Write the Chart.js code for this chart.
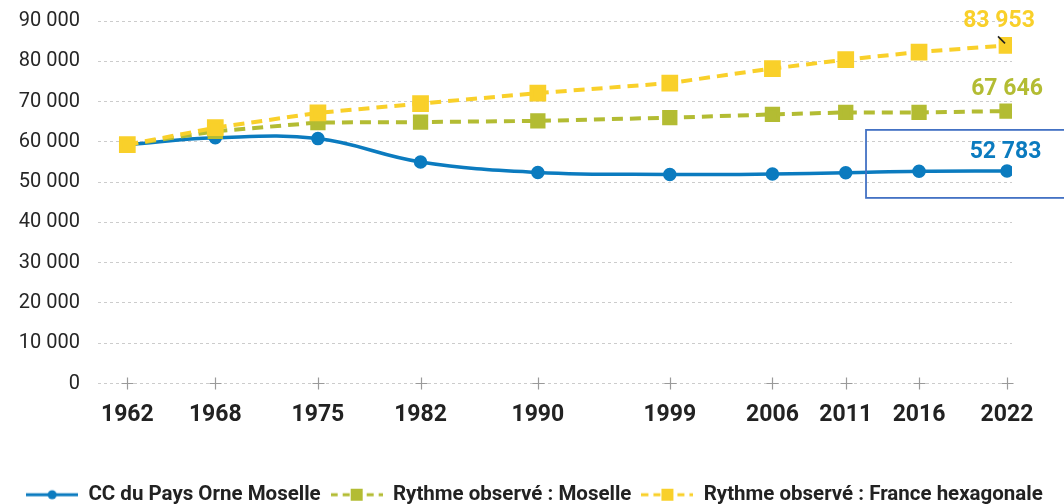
<!DOCTYPE html>
<html><head><meta charset="utf-8">
<script src="https://cdn.jsdelivr.net/npm/chart.js@4/dist/chart.umd.min.js"></script>
<style>html,body{margin:0;padding:0;background:#fff}#wrap{width:1064px;height:504px}</style>
</head><body><div id="wrap"><canvas id="c" width="1064" height="504"></canvas></div>
<script>
const years = [1962, 1968, 1975, 1982, 1990, 1999, 2006, 2011, 2016, 2022];
const ccPaysOrneMoselle = [59300, 61000, 60800, 55000, 52400, 51900, 52000, 52300, 52700, 52783];
const rythmeMoselle = [59300, 62600, 64800, 64900, 65200, 66000, 66800, 67300, 67300, 67646];
const rythmeFrance = [59300, 63500, 67200, 69500, 72100, 74600, 78200, 80400, 82300, 83953];
const seriesNames = ['CC du Pays Orne Moselle', 'Rythme observé : Moselle', 'Rythme observé : France hexagonale'];
const yTickValues = [0, 10000, 20000, 30000, 40000, 50000, 60000, 70000, 80000, 90000];

const BLUE = '#0b7bbf', GREEN = '#b3bc33', YELLOW = '#f9d02a';
const fmt = n => String(Math.round(n)).replace(/\B(?=(\d{3})+(?!\d))/g, ' ');

function legendIcon(color, dashed, shape) {
  const c = document.createElement('canvas');
  c.width = 52; c.height = 14;
  const g = c.getContext('2d');
  g.strokeStyle = color; g.fillStyle = color; g.lineWidth = 3;
  if (dashed) g.setLineDash([7, 5]);
  g.beginPath(); g.moveTo(0, 7); g.lineTo(52, 7); g.stroke();
  if (shape === 'circle') { g.beginPath(); g.arc(26, 7, 4.5, 0, Math.PI * 2); g.fill(); }
  else { g.fillRect(20, 1, 12, 12); }
  return c;
}
const icons = [legendIcon(BLUE, false, 'circle'), legendIcon(GREEN, true, 'rect'), legendIcon(YELLOW, true, 'rect')];

const toPts = arr => years.map((y, i) => ({ x: y, y: arr[i] }));

const labelOffsets = [[-1.5, -12.7], [0, -15.7], [-8, -18]];

const endLabels = {
  id: 'endLabels',
  afterDatasetsDraw(chart) {
    const ctx = chart.ctx;
    chart.data.datasets.forEach((ds, i) => {
      const meta = chart.getDatasetMeta(i);
      const pt = meta.data[meta.data.length - 1];
      const v = ds.data[ds.data.length - 1].y;
      ctx.save();
      ctx.font = 'bold 23px Roboto';
      ctx.fillStyle = ds.borderColor;
      ctx.textAlign = 'center';
      ctx.textBaseline = 'alphabetic';
      ctx.fillText(fmt(v), pt.x + labelOffsets[i][0], pt.y + labelOffsets[i][1]);
      ctx.restore();
      if (i === 2) {
        ctx.save();
        ctx.strokeStyle = '#222'; ctx.lineWidth = 1.6;
        ctx.beginPath(); ctx.moveTo(pt.x - 9, pt.y - 9); ctx.lineTo(pt.x - 2, pt.y - 2); ctx.stroke();
        ctx.restore();
      }
      if (i === 0) {
        ctx.save();
        ctx.strokeStyle = '#4472c4'; ctx.lineWidth = 1.8;
        ctx.strokeRect(pt.x - 141, pt.y - 41, 300, 68);
        ctx.restore();
      }
    });
  }
};

const crosses = {
  id: 'crosses',
  beforeDatasetsDraw(chart) {
    const ctx = chart.ctx, xs = chart.scales.x, ys = chart.scales.y;
    const y0 = ys.getPixelForValue(0);
    ctx.save();
    ctx.strokeStyle = '#9a9a9a'; ctx.lineWidth = 1.2;
    years.forEach(yr => {
      const x = Math.round(xs.getPixelForValue(yr)) + 0.5;
      ctx.beginPath();
      ctx.moveTo(x, y0 - 6); ctx.lineTo(x, y0 + 6);
      ctx.moveTo(x - 6, y0); ctx.lineTo(x + 6, y0);
      ctx.stroke();
    });
    ctx.restore();
  }
};

new Chart(document.getElementById('c'), {
  type: 'line',
  data: {
    datasets: [
      { label: seriesNames[0], data: toPts(ccPaysOrneMoselle), borderColor: BLUE, backgroundColor: BLUE,
        borderWidth: 3.5, pointRadius: 5, pointStyle: 'circle', tension: 0.4, order: 3 },
      { label: seriesNames[1], data: toPts(rythmeMoselle), borderColor: GREEN, backgroundColor: GREEN,
        borderWidth: 4, borderDash: [11, 7], pointRadius: 8, pointStyle: 'rect', tension: 0, order: 2 },
      { label: seriesNames[2], data: toPts(rythmeFrance), borderColor: YELLOW, backgroundColor: YELLOW,
        borderWidth: 4, borderDash: [11, 7], pointRadius: 9, pointStyle: 'rect', tension: 0, order: 1 }
    ]
  },
  options: {
    responsive: false,
    animation: false,
    devicePixelRatio: 1,
    layout: { padding: { top: 21, right: 0, left: 5, bottom: -11 } },
    plugins: {
      tooltip: { enabled: false },
      legend: {
        position: 'bottom',
        labels: {
          usePointStyle: true, pointStyleWidth: 52, boxHeight: 14,
          font: { family: 'Roboto', weight: 'bold', size: 20.5 }, color: '#222', padding: 10,
          sort: (a, b) => a.datasetIndex - b.datasetIndex,
          generateLabels(chart) {
            return chart.data.datasets.map((ds, i) => ({
              text: ds.label, pointStyle: icons[i], fillStyle: ds.borderColor,
              strokeStyle: ds.borderColor, lineWidth: 0, hidden: false, datasetIndex: i, fontColor: '#222'
            }));
          }
        }
      }
    },
    scales: {
      x: {
        type: 'linear', min: 1960, max: 2022.34,
        afterBuildTicks(scale) { scale.ticks = years.map(v => ({ value: v })); },
        afterFit(scale) { scale.height = 91; scale.paddingLeft = 0; scale.paddingRight = 0; },
        grid: { display: false, drawTicks: false },
        border: { display: false },
        ticks: { padding: 18, color: '#222', font: { family: 'Roboto', weight: 'bold', size: 23 },
          callback: v => String(v), autoSkip: false, maxRotation: 0 }
      },
      y: {
        min: 0, max: 90000,
        afterBuildTicks(scale) { scale.ticks = yTickValues.map(v => ({ value: v })); },
        afterFit(scale) { scale.width = 93; scale.paddingTop = 0; scale.paddingBottom = 0; },
        grid: { color: '#cccccc', lineWidth: 1, drawTicks: false },
        border: { display: false, dash: [3, 3] },
        ticks: { padding: 18, color: '#262626', font: { family: 'Roboto', size: 20 }, callback: v => fmt(v) }
      },
      yRight: {
        position: 'right', min: 0, max: 90000,
        afterFit(scale) { scale.width = 52; scale.paddingTop = 0; scale.paddingBottom = 0; },
        grid: { display: false, drawTicks: false },
        border: { display: false },
        ticks: { display: false }
      }
    }
  },
  plugins: [crosses, endLabels]
});
</script></body></html>
